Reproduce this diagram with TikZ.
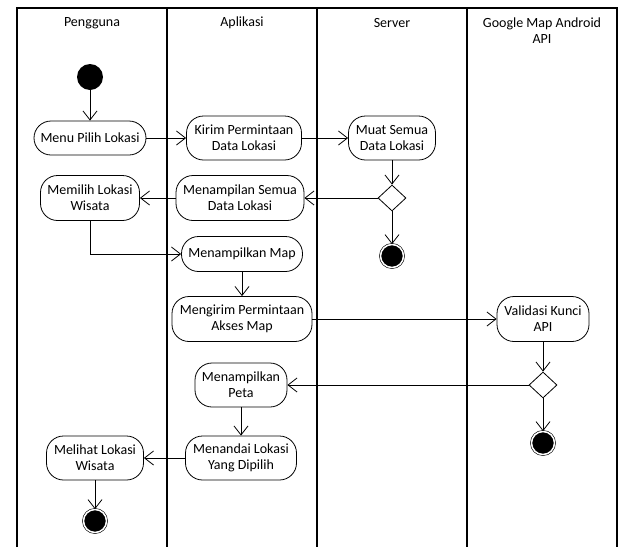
\documentclass[tikz,border=0pt]{standalone}
\usepackage{fontspec}
\setmainfont{Carlito}
\usetikzlibrary{arrows.meta,shapes.geometric}
\tikzset{
  >={Straight Barb[length=9pt,width=14pt]},
  every node/.style={font=\fontsize{14}{16}\selectfont},
  act/.style={draw,line width=0.8pt,rounded corners=17pt,align=center,inner sep=1pt},
  start/.style={circle,fill=black,minimum size=26pt,inner sep=0pt},
  stop/.style={circle,fill=black,draw,line width=0.6pt,double=white,double distance=1.5pt,minimum size=23pt,inner sep=0pt},
  decide/.style={diamond,draw,line width=0.8pt,minimum width=28pt,minimum height=26pt,inner sep=0pt},
  flow/.style={->,line width=0.8pt},
  lane/.style={line width=1.1pt},
  head/.style={align=center},
}
\begin{document}
\begin{tikzpicture}[x=1pt,y=-1pt]
  \useasboundingbox (0,0) rectangle (622,547);
  % swimlanes
  \draw[lane] (17,547) -- (17,8) -- (617,8) -- (617,547);
  \draw[lane] (167,8) -- (167,547);
  \draw[lane] (317,8) -- (317,547);
  \draw[lane] (467,8) -- (467,547);
  \node[head] (hpengguna) at (92,23) {Pengguna};
  \node[head] (haplikasi) at (242,23) {Aplikasi};
  \node[head] (hserver) at (392,23) {Server};
  \node[head] (hgoogle) at (542,31) {Google Map Android\\API};

  % actions
  \node[start] (init) at (90,77) {};
  \node[act,minimum width=112pt,minimum height=34pt] (menu) at (90,138) {Menu Pilih Lokasi};
  \node[act,minimum width=115pt,minimum height=44pt] (kirim) at (244,138) {Kirim Permintaan\\Data Lokasi};
  \node[act,minimum width=87pt,minimum height=44pt] (muat) at (392,138) {Muat Semua\\Data Lokasi};
  \node[decide] (dec1) at (392,198) {};
  \node[stop] (end1) at (392,256) {};
  \node[act,minimum width=99pt,minimum height=45pt] (memilih) at (90,198) {Memilih Lokasi\\Wisata};
  \node[act,minimum width=128pt,minimum height=45pt] (menampilan) at (240,198) {Menampilan Semua\\Data Lokasi};
  \node[act,minimum width=121pt,minimum height=35pt] (map) at (242,254) {Menampilkan Map};
  \node[act,minimum width=140pt,minimum height=45pt] (mengirim) at (242,319) {Mengirim Permintaan\\Akses Map};
  \node[act,minimum width=92pt,minimum height=45pt] (validasi) at (543,319) {Validasi Kunci\\API};
  \node[decide] (dec2) at (543,385) {};
  \node[stop] (end2) at (543,443) {};
  \node[act,minimum width=92pt,minimum height=44pt] (peta) at (241,385) {Menampilkan\\Peta};
  \node[act,minimum width=111pt,minimum height=44pt] (menandai) at (241,458) {Menandai Lokasi\\Yang Dipilih};
  \node[act,minimum width=97pt,minimum height=44pt] (melihat) at (95,458) {Melihat Lokasi\\Wisata};
  \node[stop] (end3) at (95,521) {};

  % flows
  \draw[flow] (init) -- (menu);
  \draw[flow] (menu) -- (kirim);
  \draw[flow] (kirim) -- (muat);
  \draw[flow] (muat) -- (dec1);
  \draw[flow] (dec1) -- (end1);
  \draw[flow] (dec1.west) -- (menampilan.east);
  \draw[flow] (menampilan) -- (memilih);
  \draw[flow] (memilih.south) |- (map.west);
  \draw[flow] (map) -- (mengirim);
  \draw[flow] (mengirim) -- (validasi);
  \draw[flow] (validasi) -- (dec2);
  \draw[flow] (dec2) -- (end2);
  \draw[flow] (dec2.west) -- (peta.east);
  \draw[flow] (peta) -- (menandai);
  \draw[flow] (menandai) -- (melihat);
  \draw[flow] (melihat) -- (end3);
\end{tikzpicture}
\end{document}
